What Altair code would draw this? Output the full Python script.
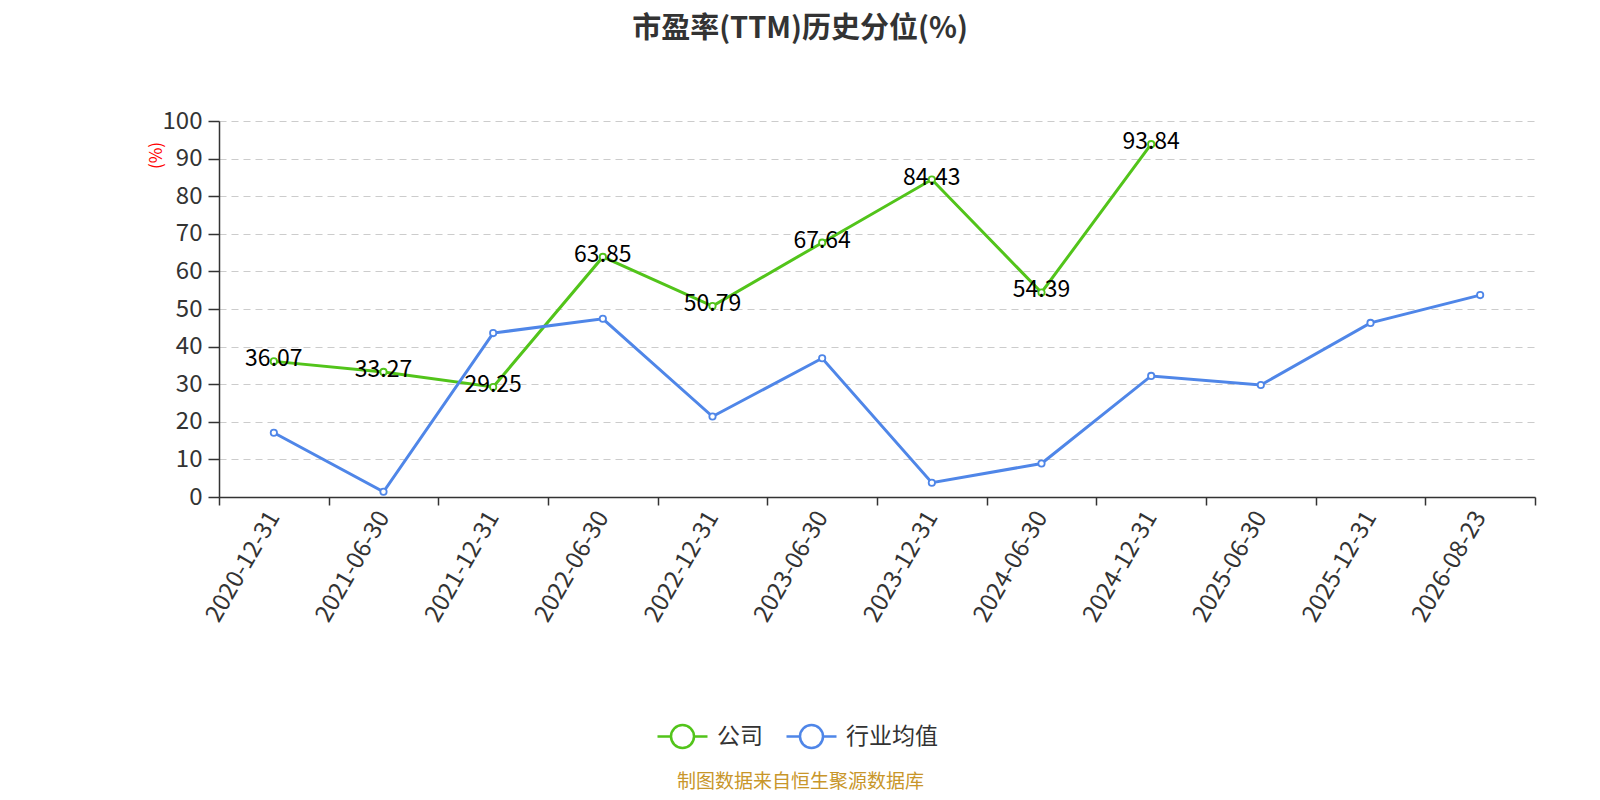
import altair as alt
import pandas as pd

dates = ["2020-12-31", "2021-06-30", "2021-12-31", "2022-06-30", "2022-12-31", "2023-06-30",
         "2023-12-31", "2024-06-30", "2024-12-31", "2025-06-30", "2025-12-31", "2026-08-23"]
company = [36.07, 33.27, 29.25, 63.85, 50.79, 67.64, 84.43, 54.39, 93.84]
industry = [17.1, 1.4, 43.6, 47.4, 21.4, 36.9, 3.8, 8.9, 32.2, 29.8, 46.3, 53.7]
series_names = ["公司", "行业均值"]
colors = ["#52c41a", "#4f86e8"]
y_ticks = list(range(0, 101, 10))

rows = []
for d, v in zip(dates, company):
    rows.append({"date": d, "series": series_names[0], "value": v})
for d, v in zip(dates, industry):
    rows.append({"date": d, "series": series_names[1], "value": v})
df = pd.DataFrame(rows)

FONT = "Noto Sans CJK SC"

x_enc = alt.X(
    "date:O", sort=dates,
    scale=alt.Scale(type="band", paddingInner=0, paddingOuter=0),
    axis=alt.Axis(
        title="制图数据来自恒生聚源数据库", titleColor="#c8962a", titleFontSize=19,
        titleFontWeight="normal", titleX=581, titleY=284, titleAlign="center",
        titleBaseline="middle", titleFont=FONT,
        labelAngle=300, labelAlign="right", labelBaseline="middle",
        labelFontSize=24, labelColor="#333333", labelFont=FONT, labelPadding=8,
        tickBand="extent", tickSize=8, tickColor="#333333", domainColor="#333333",
        domainWidth=1.5, tickWidth=1.5, grid=False,
    ),
)
y_enc = alt.Y(
    "value:Q",
    scale=alt.Scale(domain=[0, 100], nice=False, zero=True),
    axis=alt.Axis(
        values=y_ticks, title="(%)", titleColor="red", titleFontSize=17,
        titleFontWeight="normal", titleX=-63, titleY=34, titleAngle=270,
        titleAlign="center", titleBaseline="middle", titleFont=FONT,
        labelFontSize=24, labelColor="#333333", labelFont=FONT, labelPadding=6,
        grid=True, gridDash=[7, 5], gridColor="#cccccc", gridWidth=1.2,
        tickSize=11, tickColor="#333333", domainColor="#333333", domainWidth=1.5,
        tickWidth=1.5,
    ),
)
color_scale = alt.Scale(domain=series_names, range=colors)

symbol_path = ("M-1,0L-0.46,0M0.46,0A0.46,0.46,0,1,1,-0.46,0"
               "A0.46,0.46,0,1,1,0.46,0M0.46,0L1,0")

lines = alt.Chart(df).mark_line(strokeWidth=3).encode(
    x=x_enc, y=y_enc,
    color=alt.Color("series:N", scale=color_scale, sort=series_names,
                    legend=alt.Legend(
                        title=None, orient="none", direction="horizontal",
                        legendX=437, legendY=589, symbolType=symbol_path,
                        symbolSize=2500, symbolStrokeWidth=2.5,
                        symbolFillColor="white", labelFontSize=23,
                        labelColor="#333333", labelFont=FONT, labelOffset=8,
                        columnPadding=18,
                    )),
)
points = alt.Chart(df).mark_point(filled=False, fill="white", size=40,
                                  strokeWidth=1.8, opacity=1).encode(
    x=x_enc, y=y_enc,
    color=alt.Color("series:N", scale=color_scale, legend=None),
)
labels = alt.Chart(df).transform_filter(
    alt.datum.series == series_names[0]
).mark_text(fontSize=23, color="black", font=FONT, baseline="middle", dy=-2).encode(
    x=x_enc, y=y_enc,
    text=alt.Text("value:Q", format=".2f"),
)

chart = alt.layer(lines, points, labels).properties(
    width=1316, height=376,
    autosize=alt.AutoSizeParams(type="none"),
    padding={"left": 211, "top": 113, "right": 57, "bottom": 295},
    title=alt.TitleParams(text="市盈率(TTM)历史分位(%)", fontSize=29, font=FONT,
                          fontWeight="bold", color="#333333", anchor="middle",
                          dx=-77, offset=65),
).configure_view(stroke=None)

chart.save("out.html", embed_options={"renderer": "svg", "actions": False})
